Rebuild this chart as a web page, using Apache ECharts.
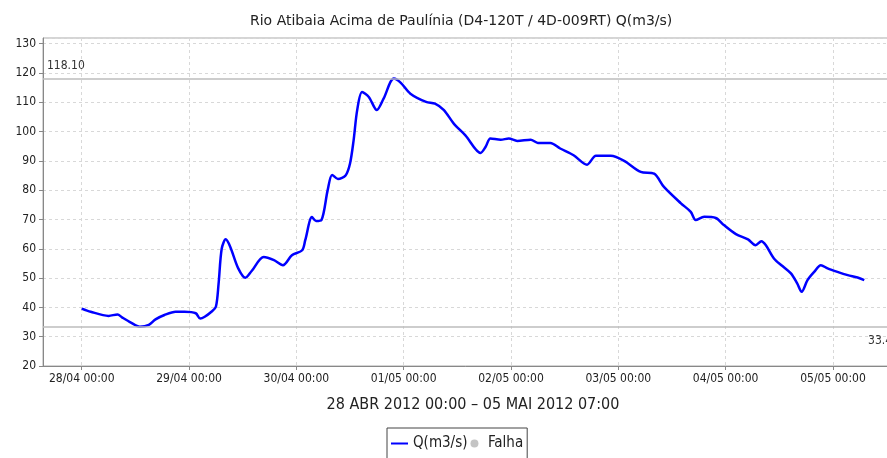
<!DOCTYPE html>
<html>
<head>
<meta charset="utf-8">
<script src="https://cdn.jsdelivr.net/npm/echarts@6/dist/echarts.min.js"></script>
<style>html,body{margin:0;padding:0;background:#fff}#c{width:887px;height:458px}</style>
</head>
<body>
<div id="c"></div>
<script>
// hours since 28/04/2012 00:00
var hours = [0, 2, 6, 8, 9, 11, 13, 15, 16.5, 18.5, 21, 23, 25.5, 26.5, 27.5, 29, 30, 30.6, 31.3, 32.2, 33.2, 35, 36.6, 38, 40.7, 43, 45, 47, 49.3, 50, 51.5, 52.4, 53.6, 55, 56, 57.3, 59, 60, 60.8, 61.6, 62.7, 64.2, 66, 67.5, 69.8, 71.3, 73.5, 77, 79, 81, 83.2, 85.8, 89.2, 90.3, 91.4, 93.7, 95.5, 97.4, 100.4, 102, 104.8, 107, 110, 113, 115, 118.3, 121.3, 125, 128, 130.2, 134, 136.2, 137.3, 139.2, 141.8, 143.6, 146.3, 149, 150.7, 152, 153, 154.8, 156.7, 158.6, 160, 161, 162.3, 163.8, 165.3, 166.8, 169, 171.3, 173.5, 175];
var flow = [39.6, 38.5, 37.1, 37.6, 36.6, 34.8, 33.4, 34.0, 35.9, 37.4, 38.5, 38.5, 38.0, 36.2, 36.8, 38.5, 40.2, 48.0, 60.0, 63.2, 60.7, 53.3, 50.1, 52.4, 57.2, 56.1, 54.4, 57.8, 59.5, 63.0, 70.8, 69.5, 69.8, 80.0, 85.2, 83.8, 85.0, 89.1, 97.0, 107.3, 113.5, 111.8, 107.3, 111.2, 118.1, 116.7, 112.9, 110.1, 109.5, 107.3, 102.7, 98.7, 92.7, 94.7, 97.6, 97.2, 97.6, 96.8, 97.2, 96.1, 96.1, 94.2, 91.9, 88.7, 91.7, 91.7, 90.0, 86.2, 85.6, 81.1, 75.5, 72.6, 69.8, 70.9, 70.5, 68.1, 65.0, 63.2, 61.2, 62.6, 61.2, 56.7, 54.1, 51.6, 48.2, 45.3, 49.3, 52.1, 54.4, 53.3, 52.1, 51.0, 50.2, 49.3];
var yTicks = [20, 30, 40, 50, 60, 70, 80, 90, 100, 110, 120, 130];
var maxValue = 118.1, minValue = 33.4;
var titleText = 'Rio Atibaia Acima de Paulínia (D4-120T / 4D-009RT) Q(m3/s)';
var rangeText = '28 ABR 2012 00:00 \u2013 05 MAI 2012 07:00';

var FONT = "'DejaVu Sans Condensed', 'DejaVu Sans', sans-serif";
var FONT_W = "'DejaVu Sans', sans-serif";
var H = 3600 * 1000;
var t0 = new Date(2012, 3, 28, 0, 0, 0).getTime();
var data = hours.map(function (h, i) { return [t0 + h * H, flow[i]]; });
var span = 175 * H;
function pad(n) { return (n < 10 ? '0' : '') + n; }

var chart = echarts.init(document.getElementById('c'), null, { renderer: 'canvas' });
chart.setOption({
  animation: false,
  backgroundColor: '#fff',
  title: {
    text: titleText, left: 245, top: 9,
    textStyle: { fontFamily: FONT_W, fontSize: 14, fontWeight: 'normal', color: '#222' }
  },
  legend: {
    left: 387, top: 428,
    data: [
      { name: 'Q(m3/s)', itemStyle: { opacity: 0 }, textStyle: { color: '#222' } },
      { name: 'Falha', icon: 'circle', itemStyle: { color: '#c4c4c4' }, textStyle: { color: '#222' } }
    ],
    borderColor: '#444', borderWidth: 1, borderRadius: 0,
    padding: [8, 4, 8, 3], itemGap: 3, itemWidth: 17, itemHeight: 8,
    textStyle: { fontFamily: FONT, fontSize: 15, color: '#222' }
  },
  grid: { left: 43, top: 38, right: -16, bottom: 92, show: true, borderColor: '#aaa', borderWidth: 1, outerBoundsMode: 'none', containLabel: false },
  xAxis: {
    type: 'time',
    min: t0 - 0.0495 * span, max: t0 + span + 0.0495 * span,
    minInterval: 24 * H, maxInterval: 24 * H,
    name: rangeText, nameLocation: 'middle', nameGap: 31,
    nameTextStyle: { fontFamily: FONT, fontSize: 16, color: '#222' },
    axisLine: { lineStyle: { color: '#888' } },
    axisTick: { show: true, length: 4, lineStyle: { color: '#888' } },
    axisLabel: {
      fontFamily: FONT, fontSize: 12, color: '#222', margin: 7,
      showMinLabel: false, showMaxLabel: false, hideOverlap: false,
      formatter: function (v) { var d = new Date(v); return pad(d.getDate()) + '/' + pad(d.getMonth() + 1) + ' ' + pad(d.getHours()) + ':' + pad(d.getMinutes()); }
    },
    splitLine: { show: true, lineStyle: { color: '#d8d8d8', type: [3, 3] } }
  },
  yAxis: {
    type: 'value', min: yTicks[0], max: 131.9, interval: 10,
    axisLine: { show: true, lineStyle: { color: '#888' } },
    axisTick: { show: true, length: 4, lineStyle: { color: '#888' } },
    axisLabel: { fontFamily: FONT, fontSize: 12, color: '#222', margin: 7, showMaxLabel: false,
      formatter: function (v) { return yTicks.indexOf(v) >= 0 ? String(v) : ''; } },
    splitLine: { show: true, lineStyle: { color: '#d8d8d8', type: [3, 3] } }
  },
  series: [
    {
      name: 'Q(m3/s)', type: 'line', data: data, symbol: 'none', showSymbol: false, smooth: 0.3,
      lineStyle: { color: '#0000ff', width: 2.5 }, itemStyle: { color: '#0000ff' },
      markLine: {
        silent: true, symbol: 'none',
        lineStyle: { color: '#bdbdbd', width: 1.5, type: 'solid' },
        label: { fontFamily: FONT, fontSize: 12, color: '#333' },
        data: [
          { yAxis: maxValue, label: { formatter: maxValue.toFixed(2), position: 'insideStartTop', distance: [4, 7] } },
          { yAxis: minValue, label: { formatter: minValue.toFixed(2), position: 'insideEndBottom', distance: [4, 8] } }
        ]
      }
    },
    { name: 'Falha', type: 'line', data: [], symbol: 'circle', itemStyle: { color: '#c4c4c4' }, lineStyle: { color: '#c4c4c4' } }
  ]
});
</script>
</body>
</html>
